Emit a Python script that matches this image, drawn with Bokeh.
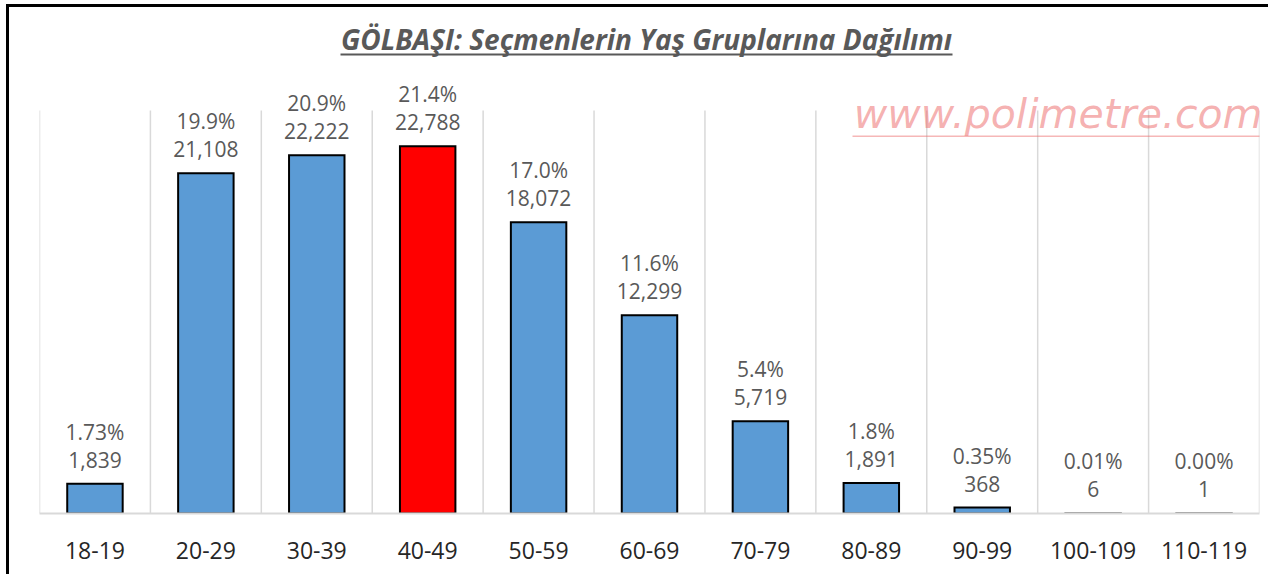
from bokeh.plotting import figure
from bokeh.models import FactorRange, Range1d, Label, BoxAnnotation, ColumnDataSource
from bokeh.core.properties import value
from bokeh.embed import file_html
from bokeh.resources import INLINE

# ---------------- data ----------------
categories = ["18-19", "20-29", "30-39", "40-49", "50-59", "60-69",
              "70-79", "80-89", "90-99", "100-109", "110-119"]
voters = [1839, 21108, 22222, 22788, 18072, 12299, 5719, 1891, 368, 6, 1]
percent_labels = ["1.73%", "19.9%", "20.9%", "21.4%", "17.0%", "11.6%",
                  "5.4%", "1.8%", "0.35%", "0.01%", "0.00%"]
highlight = "40-49"
title_text = "GÖLBAŞI: Seçmenlerin Yaş Gruplarına Dağılımı"
watermark_text = "www.polimetre.com"
y_max = 25000

# ---------------- style ----------------
FONT = "Open Sans"
BLUE = "#5B9BD5"
RED = "#FF0000"
GREY_TXT = "#595959"
GRID = "#D9D9D9"

W, H = 1262, 570
FR_L, FR_R = 30, 1250      # frame left/right in figure px
BASE, TOP25 = 506, 103     # figure px of y=0 and y=y_max
PPU = (BASE - TOP25) / y_max

def dx(fig_x):
    return (fig_x - FR_L) / ((FR_R - FR_L) / len(categories))

def dy(fig_y):
    return (BASE - fig_y) / PPU

colors = [RED if c == highlight else BLUE for c in categories]
src = ColumnDataSource(dict(
    x=categories, top=voters, color=colors,
    vlab=[f"{v:,}" for v in voters], plab=percent_labels))

p = figure(width=W, height=H, x_range=FactorRange(*categories, range_padding=0),
           y_range=Range1d(0, dy(0)), output_backend="svg", toolbar_location=None,
           min_border_left=FR_L, min_border_right=W - FR_R,
           min_border_top=0, min_border_bottom=H - BASE)
p.styles = {"border-top": "3px solid black", "border-left": "3px solid black",
            "margin-left": "6px", "margin-top": "4px"}
p.outline_line_color = None
p.background_fill_color = "white"
p.border_fill_color = "white"

# grid lines at category boundaries, only up to y_max
p.xgrid.visible = False
p.ygrid.visible = False
bounds_x = list(range(len(categories) + 1))
p.segment(x0=bounds_x, x1=bounds_x, y0=[0] * len(bounds_x), y1=[y_max] * len(bounds_x),
          line_color=GRID, line_width=1.5)

p.vbar(x="x", top="top", width=0.5, source=src, fill_color="color",
       line_color="black", line_width=2, line_join="miter")

p.text(x="x", y="top", text="vlab", source=src, y_offset=-24,
       text_align="center", text_baseline="middle", text_font=value(FONT),
       text_font_size="21px", text_color=GREY_TXT)
p.text(x="x", y="top", text="plab", source=src, y_offset=-52,
       text_align="center", text_baseline="middle", text_font=value(FONT),
       text_font_size="21px", text_color=GREY_TXT)

# axes
p.yaxis.visible = False
ax = p.xaxis[0]
ax.axis_line_color = GRID
ax.axis_line_width = 2
ax.major_tick_line_color = None
ax.minor_tick_line_color = None
ax.major_label_standoff = 22
ax.major_label_text_font = FONT
ax.major_label_text_font_size = "23px"
ax.major_label_text_color = "#262626"

# title with underline
t_left, t_right = 331, 943
p.add_layout(Label(x=dx((t_left + t_right) / 2), y=dy(31), text=title_text,
                   text_align="center", text_baseline="alphabetic", text_font=FONT,
                   text_font_size="28px", text_font_style="bold italic",
                   text_color=GREY_TXT))
p.add_layout(BoxAnnotation(left=dx(t_left), right=dx(t_right), top=dy(46), bottom=dy(48),
                           fill_color=GREY_TXT, fill_alpha=1, line_color=None))

# watermark with underline
p.add_layout(Label(x=dx(1253), y=dy(106), text=watermark_text, text_align="right",
                   text_baseline="alphabetic", text_font="DejaVu Sans", text_font_size="41px",
                   text_font_style="italic", text_color="#EE6F6F", text_alpha=0.55))
p.add_layout(BoxAnnotation(left=dx(843), right=dx(1253), top=dy(128), bottom=dy(129.5),
                           fill_color="#EE6F6F", fill_alpha=0.5, line_color=None))

open("out.html", "w").write(file_html(p, INLINE))
